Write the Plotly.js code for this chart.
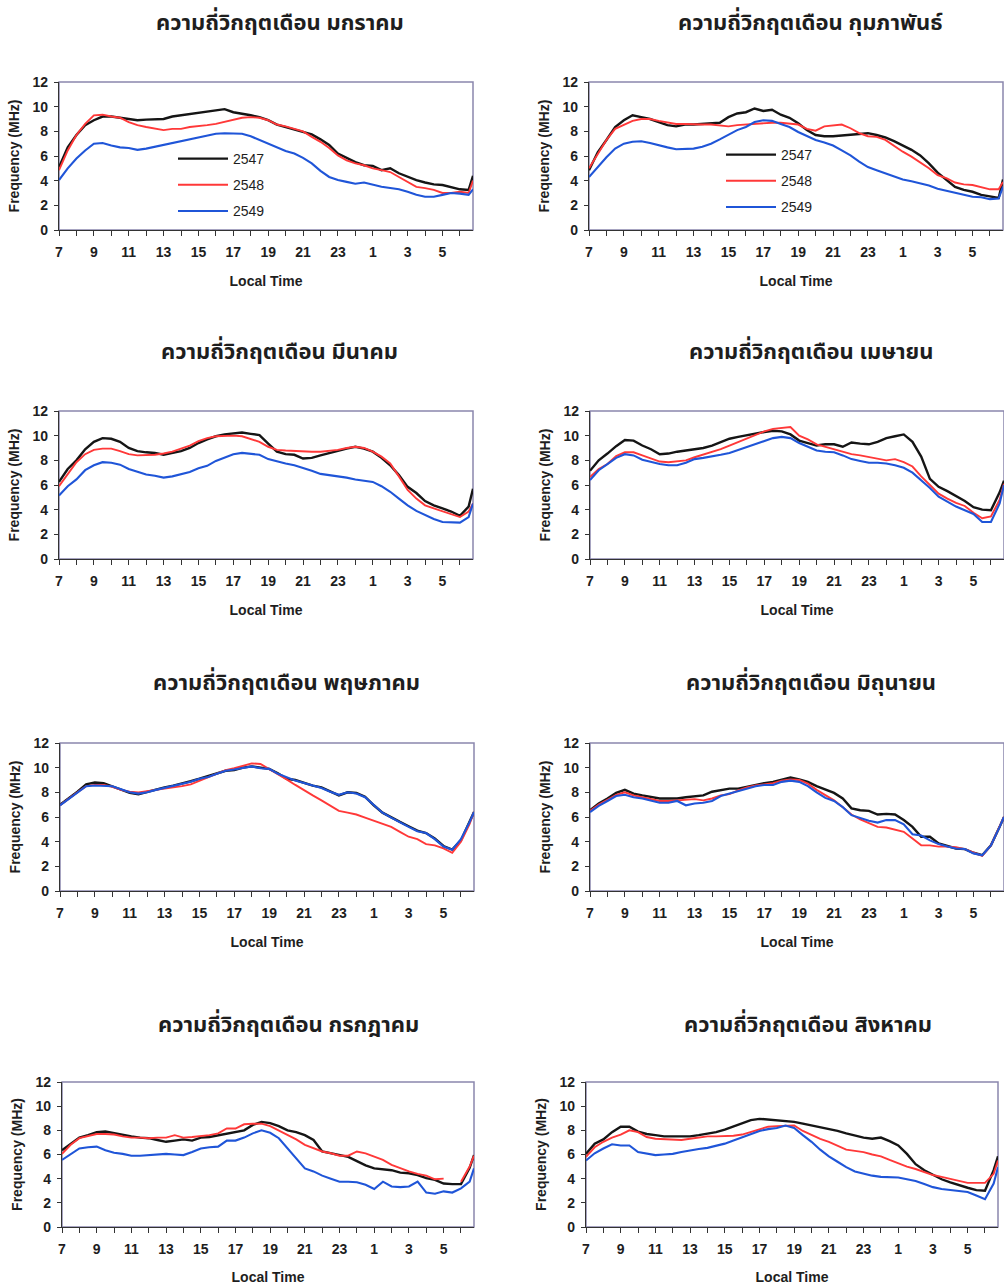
<!DOCTYPE html>
<html>
<head>
<meta charset="utf-8">
<script src="https://cdn.plot.ly/plotly-3.0.1.min.js"></script>
<style>
html,body{margin:0;padding:0;background:#ffffff;}
#chart{width:1004px;height:1285px;}
</style>
</head>
<body>
<div id="chart"></div>
<script>
// ---------- data ----------
const hours = [0,0.5,1,1.5,2,2.5,3,3.5,4,4.5,5,5.5,6,6.5,7,7.5,8,8.5,9,9.5,10,10.5,11,11.5,12,12.5,13,13.5,14,14.5,15,15.5,16,16.5,17,17.5,18,18.5,19,19.5,20,20.5,21,21.5,22,22.5,23,23.5,23.75];
const tickHours = [0,1,2,3,4,5,6,7,8,9,10,11,12,13,14,15,16,17,18,19,20,21,22,23];
const tickLabels = ['7','','9','','11','','13','','15','','17','','19','','21','','23','','1','','3','','5',''];
const yTicks = [0,2,4,6,8,10,12];
const seriesNames = ['2547','2548','2549'];
const monthTitles = ['ความถี่วิกฤตเดือน มกราคม','ความถี่วิกฤตเดือน กุมภาพันธ์','ความถี่วิกฤตเดือน มีนาคม','ความถี่วิกฤตเดือน เมษายน','ความถี่วิกฤตเดือน พฤษภาคม','ความถี่วิกฤตเดือน มิถุนายน','ความถี่วิกฤตเดือน กรกฎาคม','ความถี่วิกฤตเดือน สิงหาคม'];

const jan2547 = [5.1,6.7,7.7,8.5,8.9,9.2,9.2,9.1,9.0,8.9,8.95,9.0,9.0,9.2,9.3,9.4,9.55,9.6,9.75,9.8,9.55,9.45,9.3,9.15,8.9,8.55,8.35,8.15,7.95,7.75,7.35,6.9,6.2,5.85,5.5,5.25,5.2,4.85,5.0,4.6,4.3,4.05,3.85,3.7,3.65,3.45,3.3,3.25,4.4];
const jan2548 = [4.85,6.45,7.7,8.6,9.3,9.35,9.2,9.1,8.75,8.5,8.35,8.2,8.1,8.2,8.2,8.35,8.4,8.5,8.6,8.75,8.95,9.1,9.15,9.1,8.9,8.55,8.4,8.2,8.0,7.55,7.15,6.65,6.05,5.65,5.4,5.25,5.0,4.85,4.7,4.3,3.9,3.5,3.4,3.25,3.0,3.0,3.1,3.0,4.0];
const jan2549 = [4.05,5.0,5.8,6.45,7.0,7.05,6.85,6.7,6.65,6.5,6.6,6.75,6.85,7.0,7.15,7.3,7.45,7.6,7.8,7.85,7.85,7.8,7.6,7.3,6.95,6.7,6.4,6.2,5.85,5.4,4.8,4.3,4.05,3.9,3.75,3.85,3.65,3.5,3.4,3.3,3.1,2.85,2.7,2.7,2.85,3.0,2.95,2.85,3.3];

const feb2547 = [4.85,6.3,7.3,8.35,8.9,9.3,9.15,9.0,8.75,8.5,8.4,8.55,8.55,8.6,8.7,8.7,9.15,9.45,9.55,9.85,9.65,9.75,9.35,9.1,8.65,8.1,7.7,7.6,7.6,7.65,7.75,7.8,7.85,7.7,7.5,7.2,6.85,6.5,6.05,5.4,4.65,4.05,3.5,3.25,3.1,2.85,2.7,2.6,4.1];
const feb2548 = [5.0,6.2,7.3,8.2,8.5,8.85,9.0,9.0,8.85,8.75,8.6,8.6,8.55,8.55,8.55,8.5,8.4,8.5,8.55,8.6,8.7,8.7,8.7,8.6,8.55,8.2,8.05,8.4,8.5,8.55,8.25,7.85,7.6,7.55,7.3,6.8,6.35,5.95,5.5,5.0,4.45,4.2,3.85,3.7,3.65,3.5,3.3,3.3,3.9];
const feb2549 = [4.3,5.1,5.9,6.6,7.0,7.15,7.2,7.05,6.85,6.7,6.55,6.55,6.6,6.75,7.0,7.35,7.7,8.1,8.35,8.75,8.9,8.85,8.6,8.35,7.95,7.6,7.3,7.1,6.85,6.45,6.05,5.55,5.1,4.85,4.6,4.35,4.1,3.95,3.8,3.6,3.35,3.2,3.0,2.85,2.7,2.65,2.5,2.55,3.5];

const mar2547 = [6.25,7.3,8.0,8.9,9.5,9.8,9.75,9.5,9.0,8.75,8.65,8.6,8.45,8.6,8.75,9.0,9.4,9.7,9.95,10.1,10.2,10.25,10.15,10.05,9.35,8.7,8.5,8.45,8.15,8.2,8.4,8.6,8.8,8.95,9.1,8.95,8.7,8.2,7.6,6.8,5.85,5.35,4.7,4.35,4.1,3.85,3.5,4.25,5.7];
const mar2548 = [5.9,6.9,7.85,8.5,8.85,8.95,8.95,8.75,8.5,8.4,8.4,8.45,8.55,8.7,8.95,9.2,9.55,9.8,9.95,10.0,10.0,9.95,9.75,9.5,9.1,8.85,8.8,8.75,8.7,8.7,8.7,8.75,8.85,9.0,9.1,9.0,8.7,8.3,7.75,6.7,5.6,4.9,4.35,4.1,3.85,3.65,3.4,3.85,4.5];
const mar2549 = [5.15,5.9,6.45,7.2,7.6,7.85,7.8,7.65,7.3,7.05,6.85,6.75,6.6,6.7,6.9,7.05,7.35,7.55,7.95,8.2,8.5,8.6,8.55,8.45,8.1,7.9,7.75,7.6,7.4,7.15,6.9,6.8,6.75,6.6,6.45,6.35,6.25,5.9,5.45,4.9,4.35,3.9,3.55,3.25,3.0,2.95,2.95,3.4,4.5];

const apr2547 = [7.15,8.0,8.55,9.15,9.65,9.6,9.2,8.9,8.5,8.55,8.7,8.8,8.9,9.0,9.2,9.45,9.75,9.9,10.05,10.2,10.3,10.4,10.35,10.1,9.6,9.4,9.2,9.3,9.3,9.1,9.45,9.35,9.3,9.5,9.8,9.95,10.1,9.5,8.3,6.5,5.85,5.5,5.1,4.7,4.2,4.0,3.95,5.4,6.35];
const apr2548 = [6.65,7.3,7.7,8.35,8.65,8.65,8.4,8.15,7.9,7.85,7.9,8.0,8.25,8.45,8.65,8.9,9.2,9.5,9.8,10.1,10.35,10.55,10.65,10.7,10.0,9.7,9.3,9.1,8.9,8.7,8.5,8.4,8.25,8.1,8.0,8.1,7.85,7.5,6.7,6.0,5.3,4.9,4.55,4.3,3.75,3.3,3.45,4.8,6.1];
const apr2549 = [6.4,7.2,7.7,8.2,8.5,8.4,8.05,7.85,7.7,7.6,7.6,7.8,8.1,8.2,8.3,8.45,8.6,8.85,9.1,9.35,9.6,9.8,9.9,9.8,9.4,9.1,8.8,8.7,8.65,8.4,8.1,7.95,7.8,7.8,7.75,7.6,7.4,7.0,6.4,5.75,5.05,4.65,4.25,3.95,3.65,3.0,3.0,4.5,6.0];

const may2547 = [7.0,7.5,8.05,8.65,8.8,8.75,8.5,8.2,7.95,7.85,8.05,8.2,8.4,8.55,8.7,8.9,9.1,9.3,9.5,9.75,9.8,10.0,10.1,10.0,9.9,9.55,9.1,9.0,8.75,8.55,8.4,8.05,7.75,8.0,7.95,7.65,6.95,6.35,5.95,5.6,5.25,4.9,4.7,4.25,3.65,3.35,4.1,5.6,6.4];
const may2548 = [6.95,7.5,8.0,8.5,8.6,8.6,8.45,8.2,8.05,8.0,8.1,8.2,8.3,8.35,8.5,8.65,8.95,9.25,9.55,9.8,9.95,10.15,10.35,10.3,9.9,9.5,9.05,8.6,8.15,7.75,7.35,6.9,6.5,6.35,6.2,5.95,5.7,5.4,5.2,4.8,4.4,4.2,3.8,3.7,3.45,3.1,4.0,5.45,6.4];
const may2549 = [6.95,7.45,8.0,8.5,8.55,8.55,8.5,8.25,8.0,7.9,8.0,8.2,8.35,8.5,8.7,8.85,9.1,9.25,9.5,9.75,9.85,9.95,10.1,9.95,9.9,9.5,9.2,8.95,8.75,8.55,8.35,8.05,7.8,8.0,7.9,7.6,6.95,6.35,5.95,5.55,5.2,4.85,4.7,4.2,3.6,3.35,4.2,5.6,6.4];

const jun2547 = [6.55,7.1,7.5,7.95,8.2,7.9,7.75,7.6,7.5,7.5,7.5,7.6,7.7,7.75,8.05,8.15,8.3,8.3,8.45,8.65,8.75,8.85,9.0,9.2,9.05,8.85,8.5,8.2,7.95,7.5,6.7,6.55,6.5,6.2,6.25,6.2,5.75,5.2,4.4,4.4,3.85,3.65,3.45,3.4,3.1,2.9,3.7,5.2,6.0];
const jun2548 = [6.5,7.0,7.4,7.8,8.0,7.75,7.6,7.45,7.3,7.3,7.35,7.4,7.45,7.35,7.5,7.75,7.85,8.15,8.4,8.55,8.65,8.75,8.95,9.05,9.0,8.7,8.2,7.75,7.35,6.8,6.2,5.8,5.5,5.2,5.15,5.0,4.8,4.25,3.7,3.7,3.6,3.6,3.55,3.4,3.1,2.85,3.7,5.2,6.0];
const jun2549 = [6.4,6.9,7.3,7.7,7.8,7.6,7.5,7.3,7.15,7.15,7.3,6.95,7.1,7.15,7.3,7.7,7.9,8.1,8.35,8.5,8.6,8.6,8.85,8.95,8.85,8.5,8.0,7.55,7.3,6.8,6.15,5.9,5.7,5.55,5.75,5.75,5.4,4.6,4.5,4.1,3.8,3.6,3.45,3.4,3.05,2.9,3.7,5.2,6.0];

const jul2547 = [6.35,6.9,7.4,7.6,7.85,7.9,7.75,7.6,7.5,7.4,7.35,7.2,7.05,7.15,7.25,7.15,7.4,7.45,7.6,7.7,7.9,8.0,8.45,8.7,8.6,8.35,8.0,7.85,7.6,7.2,6.25,6.1,5.9,5.8,5.45,5.1,4.85,4.8,4.7,4.5,4.45,4.3,4.05,3.9,3.6,3.55,3.55,4.9,5.95];
const jul2548 = [6.05,6.8,7.35,7.55,7.7,7.7,7.65,7.5,7.4,7.4,7.35,7.4,7.4,7.6,7.4,7.45,7.5,7.6,7.75,8.15,8.15,8.5,8.55,8.55,8.35,8.0,7.6,7.25,6.8,6.5,6.25,6.1,5.9,5.9,6.25,6.1,5.8,5.55,5.15,4.85,4.6,4.4,4.25,3.95,4.0,null,3.75,5.0,5.9];
const jul2549 = [5.55,6.05,6.5,6.6,6.65,6.35,6.15,6.05,5.9,5.9,5.95,6.0,6.05,6.0,5.95,6.2,6.5,6.6,6.65,7.15,7.15,7.4,7.75,8.0,7.8,7.35,6.5,5.7,4.85,4.6,4.25,4.0,3.75,3.75,3.7,3.5,3.15,3.75,3.35,3.3,3.35,3.75,2.85,2.75,2.95,2.85,3.2,3.75,4.85];

const aug2547 = [6.05,6.9,7.25,7.85,8.3,8.3,7.9,7.7,7.6,7.5,7.5,7.5,7.5,7.6,7.7,7.85,8.05,8.3,8.6,8.85,8.95,8.9,8.8,8.75,8.7,8.55,8.4,8.3,8.15,7.95,7.75,7.55,7.4,7.3,7.4,7.1,6.75,6.05,5.2,4.7,4.3,3.95,3.7,3.45,3.25,3.05,3.0,4.7,5.85];
const aug2548 = [5.8,6.6,7.05,7.4,7.65,8.0,7.85,7.45,7.3,7.25,7.2,7.2,7.3,7.4,7.5,7.5,7.5,7.55,7.65,7.85,8.05,8.3,8.35,8.4,8.4,7.95,7.6,7.3,7.05,6.7,6.4,6.3,6.2,6.0,5.85,5.55,5.25,5.0,4.8,4.55,4.3,4.15,4.0,3.8,3.65,3.65,3.65,4.4,5.5];
const aug2549 = [5.5,6.1,6.5,6.85,6.75,6.75,6.2,6.05,5.95,6.0,6.05,6.2,6.35,6.45,6.55,6.7,6.9,7.15,7.4,7.7,7.95,8.1,8.2,8.4,8.2,7.6,7.05,6.4,5.85,5.4,4.95,4.6,4.4,4.25,4.15,4.1,4.1,3.95,3.8,3.55,3.3,3.15,3.05,2.95,2.9,2.6,2.3,3.6,4.95];

// ---------- layout ----------
const W = 1004, H = 1285;
const seriesColors = ['#151515', '#ff3838', '#1f55d8'];
const seriesWidths = [2.4, 1.9, 2.1];

// pixel boxes: [left, right, top, bottom], title centre [x, y]
const panels = [
  {box:[59,473,82,230],   title:[280,23],   data:[jan2547,jan2548,jan2549], legend:'legend'},
  {box:[589,1003,82,230], title:[810,23],   data:[feb2547,feb2548,feb2549], legend:'legend2'},
  {box:[59,473,411,559],  title:[279,352],  data:[mar2547,mar2548,mar2549]},
  {box:[590,1004,411,559],title:[811,352],  data:[apr2547,apr2548,apr2549]},
  {box:[60,474,743,891],  title:[286,683],  data:[may2547,may2548,may2549]},
  {box:[590,1004,743,891],title:[811,683],  data:[jun2547,jun2548,jun2549]},
  {box:[62,474,1082,1227],title:[288,1025], data:[jul2547,jul2548,jul2549]},
  {box:[586,998,1082,1227],title:[808,1025],data:[aug2547,aug2548,aug2549]}
];
panels.forEach((p,i)=>{p.title.text = monthTitles[i];});

const axisFont = {family:'Liberation Sans, Arial, sans-serif', size:14, color:'#1e1e1e', weight:'bold'};
const titleFontAxis = {family:'Liberation Sans, Arial, sans-serif', size:14, color:'#1e1e1e', weight:'bold'};

const traces = [];
const layout = {
  width: W, height: H,
  margin: {l:0, r:0, t:0, b:0},
  paper_bgcolor: '#ffffff',
  plot_bgcolor: '#ffffff',
  showlegend: true,
  annotations: [],
  shapes: [],
  legend: {x:173/W, y:1-143/H, xanchor:'left', yanchor:'top', bgcolor:'rgba(0,0,0,0)',
           font:{family:'Liberation Sans, Arial, sans-serif', size:14, color:'#1e1e1e'},
           tracegroupgap:5, itemwidth:50},
  legend2: {x:721/W, y:1-139/H, xanchor:'left', yanchor:'top', bgcolor:'rgba(0,0,0,0)',
           font:{family:'Liberation Sans, Arial, sans-serif', size:14, color:'#1e1e1e'},
           tracegroupgap:5, itemwidth:50}
};

panels.forEach((p, i) => {
  const n = i + 1;
  const xa = 'xaxis' + (n === 1 ? '' : n);
  const ya = 'yaxis' + (n === 1 ? '' : n);
  const xr = 'x' + (n === 1 ? '' : n);
  const yr = 'y' + (n === 1 ? '' : n);
  const [l, r, t, b] = p.box;
  layout[xa] = {
    domain: [l / W, r / W], anchor: yr,
    range: [0, 23.75], tickmode: 'array', tickvals: tickHours, ticktext: tickLabels,
    ticks: 'outside', ticklen: 5, tickwidth: 1, tickcolor: '#333',
    showline: true, linecolor: '#333', linewidth: 1.2,
    showgrid: false, zeroline: false, fixedrange: true,
    tickfont: axisFont, ticklabelstandoff: 4,
    title: {text: 'Local Time', font: titleFontAxis, standoff: 17}
  };
  layout[ya] = {
    domain: [1 - b / H, 1 - t / H], anchor: xr,
    range: [0, 12], tickmode: 'array', tickvals: yTicks,
    ticks: 'outside', ticklen: 4, tickwidth: 1, tickcolor: '#333',
    showline: true, linecolor: '#333', linewidth: 1.2,
    showgrid: false, zeroline: false, fixedrange: true,
    tickfont: axisFont, ticklabelstandoff: 3,
    title: {text: 'Frequency (MHz)', font: titleFontAxis, standoff: 9}
  };
  layout.shapes.push({
    type: 'rect', xref: xr + ' domain', yref: yr + ' domain',
    x0: 0, x1: 1, y0: 0, y1: 1, layer: 'below',
    line: {color: '#8a86ad', width: 1.5}, fillcolor: 'rgba(0,0,0,0)'
  });
  layout.annotations.push({
    xref: 'paper', yref: 'paper', x: p.title[0] / W, y: 1 - p.title[1] / H,
    xanchor: 'center', yanchor: 'middle', showarrow: false,
    text: p.title.text,
    font: {family: 'Noto Sans Thai, Loma, Garuda, Noto Sans, sans-serif', size: 22, color: '#1e1e1e', weight: 'bold'}
  });
  p.data.forEach((vals, k) => {
    traces.push({
      type: 'scatter', mode: 'lines', x: hours, y: vals,
      xaxis: xr, yaxis: yr, name: seriesNames[k],
      line: {color: seriesColors[k], width: seriesWidths[k]},
      connectgaps: false, hoverinfo: 'skip',
      showlegend: !!p.legend, legend: p.legend || 'legend',
      legendgroup: (p.legend || 'x') + k
    });
  });
});

Plotly.newPlot('chart', traces, layout, {displayModeBar: false, staticPlot: true});
</script>
</body>
</html>
